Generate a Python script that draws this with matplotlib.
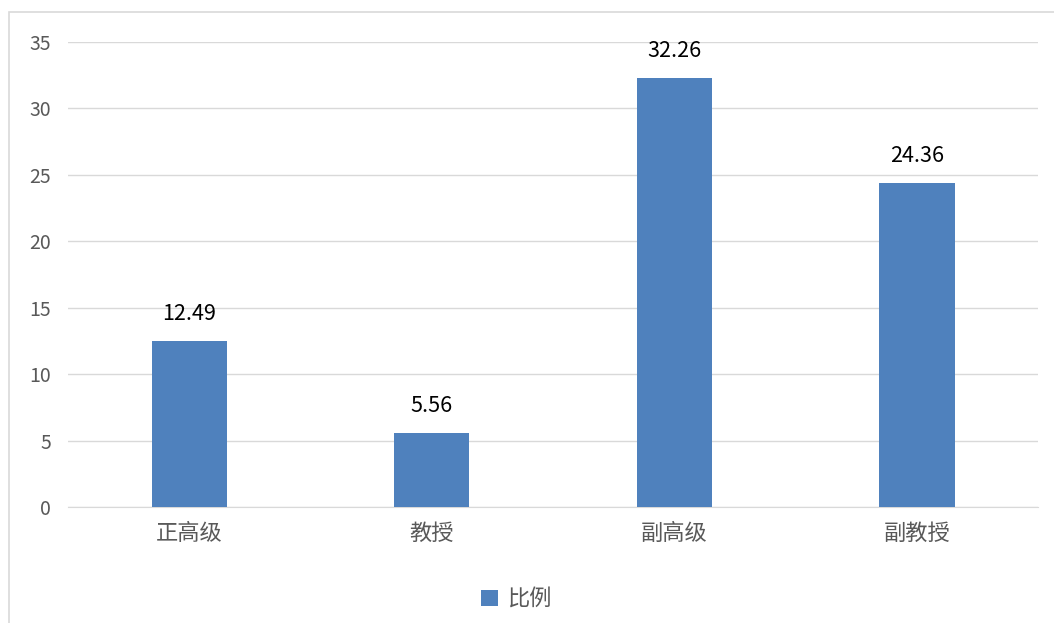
import matplotlib.pyplot as plt
from matplotlib.patches import Rectangle

plt.rcParams['font.family'] = ['Noto Sans CJK SC', 'DejaVu Sans']

categories = ['正高级', '教授', '副高级', '副教授']
values = [12.49, 5.56, 32.26, 24.36]
series_name = '比例'

fig = plt.figure(figsize=(10.54, 6.23), dpi=100)
ax = fig.add_axes([0.0645, 0.186, 0.9205, 0.7466])

# 外框（右侧和底部超出画面）
fig.patches.append(Rectangle((0.0085, -0.05), 1.2, 0.981 + 0.05, transform=fig.transFigure,
                             fill=False, edgecolor='#d9d9d9', linewidth=1.2))

x = range(len(categories))
bars = ax.bar(x, values, width=0.31, color='#4f81bd', label=series_name, zorder=3)
for i, v in zip(x, values):
    ax.text(i, v + 1.2, f'{v:.2f}', ha='center', va='bottom', fontsize=15.5, color='black')

ax.set_xlim(-0.5, 3.5)
ax.set_ylim(0, 35)
ax.set_yticks(range(0, 36, 5))
ax.set_xticks(list(x))
ax.set_xticklabels(categories, fontsize=16, color='#595959')
ax.tick_params(axis='y', labelsize=14, labelcolor='#595959', length=0, pad=12)
ax.tick_params(axis='x', length=0, pad=11)
ax.grid(axis='y', color='#d9d9d9', linewidth=1, zorder=0)
for s in ['top', 'right', 'left']:
    ax.spines[s].set_visible(False)
ax.spines['bottom'].set_color('#d9d9d9')

fig.legend(loc='center', bbox_to_anchor=(0.49, 0.038), frameon=False, fontsize=16,
           handlelength=0.75, handleheight=0.75, handletextpad=0.4, labelcolor='#595959')

fig.savefig('out.png', dpi=100)
